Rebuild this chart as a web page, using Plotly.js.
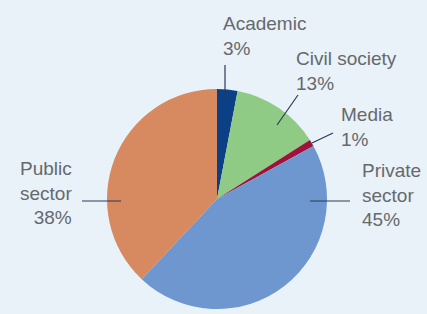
<!DOCTYPE html>
<html>
<head>
<meta charset="utf-8">
<script src="https://cdn.plot.ly/plotly-3.0.1.min.js"></script>
<style>
html,body{margin:0;padding:0;background:#e9f2f9;}
#chart{width:427px;height:314px;}
</style>
</head>
<body>
<div id="chart"></div>
<script>
// Data
const categories = ["Academic", "Civil society", "Media", "Private sector", "Public sector"];
const shares = [3, 13, 1, 45, 38];
const labelText = ["Academic<br>3%", "Civil society<br>13%", "Media<br>1%", "Private<br>sector<br>45%", "Public<br>sector<br>38%"];

// Styling / layout
const W = 427, H = 314;
const colors = ["#0b3f86", "#8fcb84", "#a0123c", "#6e97d0", "#d7895f"];
const cx = 217, cy = 199, R = 110;
const px = (x) => x / W;
const py = (y) => 1 - y / H;

// label placement: [left/right x, top y, anchor]
const labelPos = [
  [221, 11, "left"],
  [294, 46, "left"],
  [339, 102, "left"],
  [360, 158, "left"],
  [74, 156, "right"]
];
// leader lines [x0,y0,x1,y1] in pixels
const leaders = [
  [225, 97, 225, 65],
  [277, 125, 298, 95],
  [312, 143, 333, 133],
  [310, 201, 350, 201],
  [82, 201, 121, 201]
];

const trace = {
  type: "pie",
  labels: categories,
  values: shares,
  sort: false,
  direction: "clockwise",
  rotation: 0,
  textinfo: "none",
  hoverinfo: "label+percent",
  marker: {colors: colors, line: {width: 0}},
  domain: {x: [px(cx - R), px(cx + R)], y: [py(cy + R), py(cy - R)]},
  showlegend: false
};

const annotations = labelText.map((t, i) => ({
  xref: "paper", yref: "paper",
  x: px(labelPos[i][0]), y: py(labelPos[i][1]),
  xanchor: labelPos[i][2], yanchor: "top",
  align: labelPos[i][2],
  text: t, showarrow: false,
  font: {family: "Liberation Sans, Arial, sans-serif", size: 19, color: "#66696c"}
}));

const shapes = leaders.map((l) => ({
  type: "line", xref: "paper", yref: "paper",
  x0: px(l[0]), y0: py(l[1]), x1: px(l[2]), y1: py(l[3]),
  line: {color: "#2b3a55", width: 1.2}
}));

const layout = {
  width: W, height: H,
  margin: {l: 0, r: 0, t: 0, b: 0},
  paper_bgcolor: "#e9f2f9",
  plot_bgcolor: "#e9f2f9",
  annotations: annotations,
  shapes: shapes
};

Plotly.newPlot("chart", [trace], layout, {displayModeBar: false, staticPlot: true});
</script>
</body>
</html>
